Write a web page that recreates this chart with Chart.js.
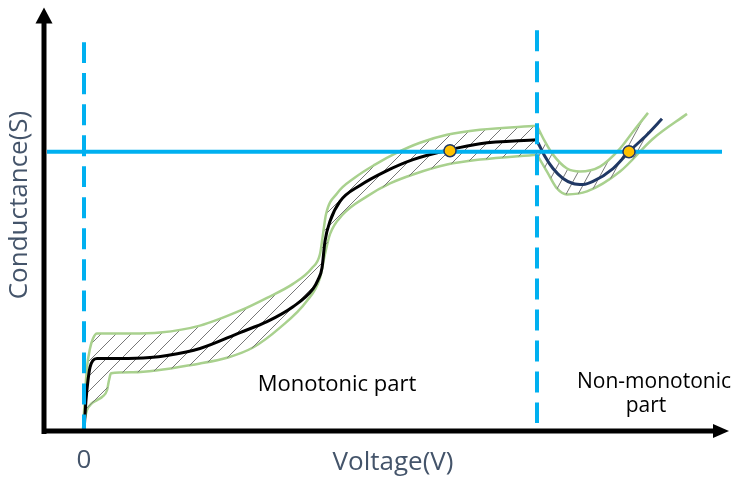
<!DOCTYPE html>
<html>
<head>
<meta charset="utf-8">
<script src="https://cdn.jsdelivr.net/npm/chart.js@4.4.1/dist/chart.umd.min.js"></script>
<style>
  body { margin: 0; background: #fff; }
  #wrap { width: 747px; height: 479px; position: relative; }
</style>
</head>
<body>
<div id="wrap"><canvas id="condChart"></canvas></div>
<script>
// Schematic curve (x = voltage, y = conductance, arbitrary units)
var blackX = [0, 1, 2, 4, 6, 9, 13, 36, 66, 83, 116, 156, 183, 209, 229, 234, 238, 241, 246, 256, 276, 301, 329, 366, 396, 453];
var blackY = [0, 17, 32, 52, 65, 72, 74, 74, 75, 77, 84, 100, 111, 126, 144, 153, 165, 192, 212, 232, 248, 262, 274, 284, 290, 294];

var navyX = [454, 461, 469, 479, 489, 499, 509, 529, 545, 563, 578];
var navyY = [291, 277, 265, 255, 250, 249, 252, 265, 282, 299, 315];

// Upper and lower bounds of the band
var upMonoX = [-1, 1, 3, 6, 9, 13, 46, 76, 116, 156, 183, 209, 228, 236, 239, 242, 253, 271, 291, 313, 336, 363, 396, 453];
var upMonoY = [2, 37, 65, 84, 94, 99, 99, 100, 107, 122, 135, 149, 165, 179, 199, 219, 240, 256, 269, 281, 291, 299, 304, 308];
var loMonoX = [-1, 1, 3, 8, 13, 19, 23, 25, 27, 49, 116, 144, 169, 196, 223, 236, 241, 246, 259, 283, 306, 329, 363, 396, 453];
var loMonoY = [4, 14, 22, 29, 32, 36, 42, 52, 59, 60, 69, 75, 85, 105, 132, 155, 179, 199, 219, 237, 250, 259, 269, 274, 279];

var upNonX = [453, 461, 469, 483, 496, 516, 536, 549, 564];
var upNonY = [308, 292, 279, 265, 262, 267, 285, 302, 321];
var loNonX = [453, 463, 473, 483, 503, 536, 569, 603];
var loNonY = [279, 262, 245, 239, 242, 262, 295, 320];

// Reference lines and crossing points
var thresholdY = 282;
var boundaryX = [0, 453];
var crossX = [366, 545];
var crossY = [283, 282];

function pts(xs, ys) {
    return xs.map(function(x, i) { return { x: x, y: ys[i] }; });
}

function hatch(w, h) {
    var c = document.createElement('canvas');
    c.width = w; c.height = h;
    var g = c.getContext('2d');
    g.strokeStyle = '#777';
    g.lineWidth = 1;
    g.beginPath();
    g.moveTo(-w, 2 * h); g.lineTo(2 * w, -h);
    g.moveTo(-2 * w, 2 * h); g.lineTo(w, -h);
    g.moveTo(0, 2 * h); g.lineTo(3 * w, -h);
    g.stroke();
    return g.createPattern(c, 'repeat');
}

var blue = '#00b0f0';
var green = '#a9d18e';
var navy = '#203864';
var labelColor = '#44546a';
var monoHatch = hatch(15, 15);
var nonHatch = hatch(12, 22);

var overlay = {
    id: 'overlay',
    afterDatasetsDraw: function(chart) {
        var ctx = chart.ctx;
        var a = chart.chartArea;
        var xs = chart.scales.x;
        ctx.save();
        // axes with arrow heads
        ctx.strokeStyle = '#000';
        ctx.fillStyle = '#000';
        ctx.lineWidth = 5;
        ctx.beginPath();
        ctx.moveTo(a.left, a.bottom + 2);
        ctx.lineTo(a.left, a.top + 12);
        ctx.moveTo(a.left - 2.5, a.bottom - 1);
        ctx.lineTo(a.right - 12, a.bottom - 1);
        ctx.stroke();
        ctx.beginPath();
        ctx.moveTo(a.left, a.top);
        ctx.lineTo(a.left - 8.5, a.top + 16);
        ctx.lineTo(a.left + 8.5, a.top + 16);
        ctx.closePath();
        ctx.fill();
        ctx.beginPath();
        ctx.moveTo(a.right, a.bottom - 1);
        ctx.lineTo(a.right - 16, a.bottom - 8);
        ctx.lineTo(a.right - 16, a.bottom + 6);
        ctx.closePath();
        ctx.fill();

        // axis texts
        ctx.fillStyle = labelColor;
        ctx.font = '26px "Open Sans"';
        ctx.textAlign = 'center';
        ctx.textBaseline = 'alphabetic';
        ctx.fillText('0', xs.getPixelForValue(0), 468);
        ctx.fillText('Voltage(V)', 393, 470);
        ctx.save();
        ctx.translate(27, 205);
        ctx.rotate(-Math.PI / 2);
        ctx.fillText('Conductance(S)', 0, 0);
        ctx.restore();

        // region notes
        ctx.fillStyle = '#000';
        ctx.font = '22px "Open Sans"';
        ctx.fillText('Monotonic part', 337, 391);
        ctx.font = '21px "Open Sans"';
        ctx.fillText('Non-monotonic', 654, 388);
        ctx.fillText('part', 646, 412);
        ctx.restore();
    }
};

var lineBase = { showLine: true, pointRadius: 0, fill: false, cubicInterpolationMode: 'monotone' };

function lineSet(extra) {
    return Object.assign({}, lineBase, extra);
}

var ctx = document.getElementById('condChart').getContext('2d');
var condChart = new Chart(ctx, {
    type: 'scatter',
    data: {
        datasets: [
            { data: pts(crossX, crossY), pointRadius: 6, pointBackgroundColor: '#ffc000', pointBorderColor: navy, pointBorderWidth: 1.5, order: 0 },
            lineSet({ data: [{ x: -37, y: thresholdY }, { x: 638, y: thresholdY }], borderColor: blue, borderWidth: 4, order: 1 }),
            lineSet({ data: [{ x: boundaryX[0], y: 392 }, { x: boundaryX[0], y: -4 }], borderColor: blue, borderWidth: 4, borderDash: [21, 10], order: 1 }),
            lineSet({ data: [{ x: boundaryX[1], y: 404 }, { x: boundaryX[1], y: 9 }], borderColor: blue, borderWidth: 4, borderDash: [21, 10], order: 1 }),
            lineSet({ data: pts(blackX, blackY), borderColor: '#000', borderWidth: 3, order: 2 }),
            lineSet({ data: pts(navyX, navyY), borderColor: navy, borderWidth: 3, order: 2 }),
            lineSet({ data: pts(upMonoX, upMonoY), borderColor: green, borderWidth: 2.5, backgroundColor: monoHatch, fill: { target: '+1', above: monoHatch, below: monoHatch }, order: 3 }),
            lineSet({ data: pts(loMonoX, loMonoY), borderColor: green, borderWidth: 2.5, order: 3 }),
            lineSet({ data: pts(upNonX, upNonY), borderColor: green, borderWidth: 2.5, backgroundColor: nonHatch, fill: { target: '+1', above: nonHatch, below: nonHatch }, order: 3 }),
            lineSet({ data: pts(loNonX, loNonY), borderColor: green, borderWidth: 2.5, order: 3 })
        ]
    },
    options: {
        responsive: true,
        maintainAspectRatio: false,
        animation: false,
        layout: { padding: { left: 44, right: 18, top: 5, bottom: 47 } },
        scales: {
            x: { type: 'linear', min: -40, max: 645, display: false },
            y: { type: 'linear', min: 0, max: 427, display: false }
        },
        plugins: {
            legend: { display: false },
            tooltip: { enabled: false }
        }
    },
    plugins: [overlay]
});
</script>
</body>
</html>
